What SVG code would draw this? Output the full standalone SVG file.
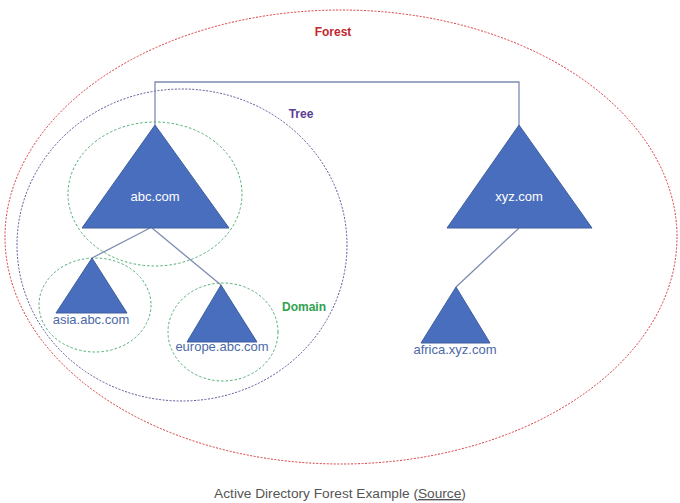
<svg xmlns="http://www.w3.org/2000/svg" width="680" height="503" viewBox="0 0 680 503">
<style>
.tri{fill:#4a6ebe;stroke:#3e5f9e;stroke-width:1}
.lbl{font-family:"Liberation Sans",Arial,sans-serif;text-anchor:middle}
.in{fill:#ffffff;font-size:13px}
.sub{fill:#4c69a8;font-size:13px}
.conn{fill:none;stroke:#7d8cb0;stroke-width:1.3}
.forest{fill:none;stroke:#d9393e;stroke-width:1;stroke-dasharray:2,1.5}
.tree{fill:none;stroke:#5a5598;stroke-width:1;stroke-dasharray:2,1.5}
.dom{fill:none;stroke:#4fae72;stroke-width:1;stroke-dasharray:2.5,2}
</style>
<rect width="680" height="503" fill="#ffffff"/>
<g id="forest">
<ellipse class="forest" cx="341" cy="237" rx="336" ry="227"/>
<text class="lbl" x="333" y="36" fill="#c0282d" font-size="12" font-weight="bold">Forest</text>
</g>
<g id="tree">
<ellipse class="tree" cx="182" cy="245" rx="165" ry="156"/>
<text class="lbl" x="301" y="118" fill="#5b3c93" font-size="12" font-weight="bold">Tree</text>
</g>
<g id="domain-abc">
<ellipse class="dom" cx="155" cy="194" rx="87" ry="72"/>
</g>
<g id="domain-asia">
<ellipse class="dom" cx="95" cy="305" rx="56" ry="47"/>
</g>
<g id="domain-europe">
<ellipse class="dom" cx="223" cy="332" rx="55" ry="49"/>
<text class="lbl" x="304" y="311" fill="#2fa14f" font-size="12" font-weight="bold">Domain</text>
</g>
<g id="connectors">
<polyline class="conn" points="155,125 155,82 519,82 519,125"/>
<line class="conn" x1="150" y1="228" x2="92" y2="258"/>
<line class="conn" x1="152" y1="228" x2="221" y2="285"/>
<line class="conn" x1="519" y1="228" x2="456" y2="287"/>
</g>
<g id="abc">
<polygon class="tri" points="155,125 229,228 82,228"/>
<text class="lbl in" x="155" y="201">abc.com</text>
</g>
<g id="xyz">
<polygon class="tri" points="519,125 592,228 447,228"/>
<text class="lbl in" x="519" y="201">xyz.com</text>
</g>
<g id="asia">
<polygon class="tri" points="92,258 127,313 56,313"/>
<text class="lbl sub" x="91" y="324">asia.abc.com</text>
</g>
<g id="europe">
<polygon class="tri" points="221,285 257,342 187,342"/>
<text class="lbl sub" x="222" y="351" font-size="14">europe.abc.com</text>
</g>
<g id="africa">
<polygon class="tri" points="456,287 490,343 421,343"/>
<text class="lbl sub" x="455" y="354">africa.xyz.com</text>
</g>
<g id="caption">
<text class="lbl" x="340" y="498" fill="#555555" font-size="13.7">Active Directory Forest Example (<tspan text-decoration="underline">Source</tspan>)</text>
</g>
</svg>
